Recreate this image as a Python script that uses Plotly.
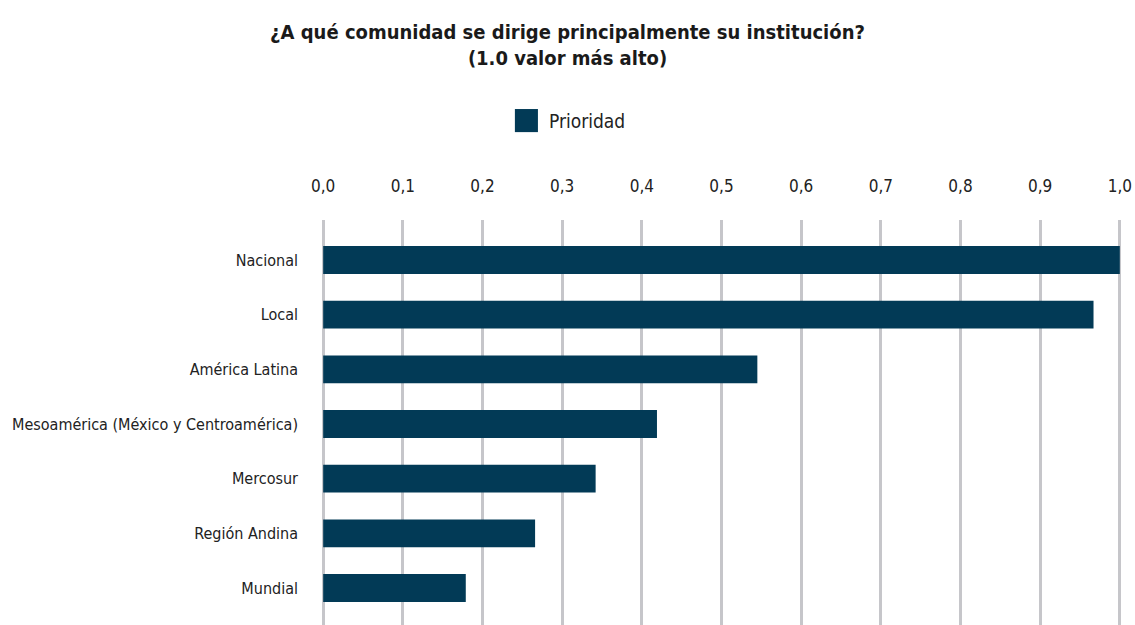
import plotly.graph_objects as go

# categories top to bottom as in the chart
categorias = ["Nacional", "Local", "América Latina",
              "Mesoamérica (México y Centroamérica)", "Mercosur",
              "Región Andina", "Mundial"]
prioridad = [1.0, 0.967, 0.545, 0.419, 0.342, 0.266, 0.179]
serie = "Prioridad"

bar_color = "#023A56"
font_fam = "DejaVu Sans Condensed, Liberation Sans Narrow, sans-serif"

# plot bottom-up so Nacional sits at the top
cats = categorias[::-1]
vals = prioridad[::-1]

fig = go.Figure()
fig.add_trace(go.Bar(
    x=vals,
    y=list(range(len(cats))),
    orientation="h",
    marker=dict(color=bar_color, line=dict(width=0)),
    width=0.51,
    name=serie,
    showlegend=False,
))

# legend key drawn by hand so the square can be as big as in the original
fig.add_shape(type="rect", xref="paper", yref="paper",
              x0=0.2427, x1=0.2714, y0=1.217, y1=1.274,
              fillcolor=bar_color, line=dict(width=0))
fig.add_annotation(text=serie, xref="paper", yref="paper",
                   x=0.2826, y=1.245, xanchor="left", yanchor="middle",
                   showarrow=False, font=dict(size=19, color="#222222"))

fig.update_layout(
    width=1135, height=625,
    paper_bgcolor="white", plot_bgcolor="white",
    separators=",.",
    font=dict(family=font_fam, size=16, color="#222222"),
    title=dict(
        text="<b>¿A qué comunidad se dirige principalmente su institución?<br>(1.0 valor más alto)</b>",
        x=0.5, xanchor="center", y=0.937, yanchor="top",
        font=dict(family=font_fam, size=20, color="#1a1a1a"),
    ),
    showlegend=False,
    margin=dict(l=320, r=12, t=220, b=0),
    bargap=0.49,
    xaxis=dict(
        # padded a little each side so the 0 and 1 grid lines are kept
        side="top", range=[-0.004, 1.004], dtick=0.1, tick0=0, tickformat=".1f",
        showgrid=True, gridcolor="#C6C6CA", gridwidth=3,
        zeroline=False, showline=False, ticks="",
        ticklabelstandoff=24,
        tickfont=dict(size=17),
    ),
    yaxis=dict(
        tickmode="array", tickvals=list(range(len(cats))), ticktext=cats,
        range=[-0.677, 6.732],
        showgrid=False, zeroline=False, showline=False,
        ticks="", ticklabelstandoff=21,
        tickfont=dict(size=16),
    ),
)

# drop the default page margin so the figure fills the window exactly
fig.write_html("out.html", config={"displayModeBar": False},
               post_script="document.body.style.margin='0';document.body.style.overflow='hidden';")
